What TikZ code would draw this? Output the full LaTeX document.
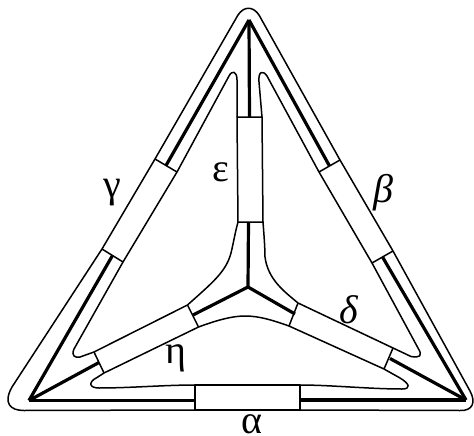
\documentclass[tikz,border=0pt]{standalone}
\usepackage{fontspec}
\setmainfont{Liberation Serif}
\begin{document}
\begin{tikzpicture}[x=1pt,y=-1pt,
  thinline/.style={line width=1.5pt,line join=round},
  boldline/.style={line width=3.2pt},
  greek/.style={inner sep=0pt,font=\fontsize{40}{40}\selectfont}]
\useasboundingbox (0,0) rectangle (474,436);
% graph vertices
\coordinate (A) at (29,400.5);
\coordinate (B) at (466,400);
\coordinate (T) at (249,20);
\coordinate (C) at (248,287);
% band corners
\coordinate (gOb) at (102,249); \coordinate (gIb) at (123,262);
\coordinate (gOt) at (155,159); \coordinate (gIt) at (177,172);
\coordinate (bOt) at (340,160); \coordinate (bIt) at (319,172);
\coordinate (bOb) at (393,251); \coordinate (bIb) at (372,263);
\coordinate (eTl) at (237,117); \coordinate (eTr) at (262,117);
\coordinate (eBl) at (238,222); \coordinate (eBr) at (263,222);
\coordinate (hOl) at (94,352);  \coordinate (hIl) at (104,373);
\coordinate (hOr) at (187.5,305); \coordinate (hIr) at (198.5,327);
\coordinate (dOl) at (298,303); \coordinate (dIl) at (289,326);
\coordinate (dOr) at (393,348); \coordinate (dIr) at (384,369);
\coordinate (aTl) at (195,385); \coordinate (aBl) at (195,410);
\coordinate (aTr) at (300,385); \coordinate (aBr) at (300,410);
% bold edges
\draw[boldline] (A) -- (112.5,255.5);
\draw[boldline] (166,165.5) -- (T);
\draw[boldline] (T) -- (329.5,166);
\draw[boldline] (382.5,257) -- (B);
\draw[boldline] (A) -- (aTl |- A);
\draw[boldline] (aTr |- B) -- (B);
\draw[boldline] (T) -- (249.5,117);
\draw[boldline] (248.5,222) -- (C);
\draw[boldline] (C) -- (193,315);
\draw[boldline] (C) -- (295,314);
\draw[boldline] (390,358.5) -- (B);
\draw[boldline] (99,362.5) -- (A);
% outer contour
\draw[thinline] (gOb) -- (12,387) .. controls (3,403) and (10,410.5) .. (24,410.5) -- (aBl);
\draw[thinline] (aBr) -- (460,410.5) .. controls (473,411) and (476,402) .. (470,391) -- (bOb);
\draw[thinline] (bOt) -- (259,15) .. controls (253,6) and (244,6) .. (238,15) -- (gOt);
% bands
\draw[thinline] (gOb) -- (gOt) -- (gIt) -- (gIb) -- cycle;
\draw[thinline] (bOt) -- (bOb) -- (bIb) -- (bIt) -- cycle;
\draw[thinline] (eTl) -- (eTr) -- (eBr) -- (eBl) -- cycle;
\draw[thinline] (hOl) -- (hOr) -- (hIr) -- (hIl) -- cycle;
\draw[thinline] (dOl) -- (dOr) -- (dIr) -- (dIl) -- cycle;
\draw[thinline] (aTl) -- (aTr) -- (aBr) -- (aBl) -- cycle;
% inner contours
\draw[thinline] (gIb) -- (74,349) .. controls (71,356) and (75,358) .. (80,357) -- (hOl);
\draw[thinline] (gIt) -- (229,76) .. controls (232,70) and (237,71) .. (237,80) -- (eTl);
\draw[thinline] (eTr) -- (259,82) .. controls (258,71) and (263,70) .. (267,76) -- (bIt);
\draw[thinline] (bIb) -- (418,348) .. controls (423,356) and (420,358) .. (411,356.5) -- (dOr);
\draw[thinline] (dIr) -- (400,378) .. controls (410,384) and (411,389) .. (402,389) .. controls (370,389) and (330,385) .. (aTr);
\draw[thinline] (hIl) -- (97,377.5) .. controls (88,382) and (89,388) .. (99,388) .. controls (130,388) and (165,385) .. (aTl);
\draw[thinline] (eBl) .. controls (235,233) and (233,245) .. (231,253) .. controls (226,272) and (212,283) .. (hOr);
\draw[thinline] (eBr) .. controls (264,235) and (265,248) .. (265,257) .. controls (268,280) and (285,292) .. (dOl);
\draw[thinline] (hIr) .. controls (212,322) and (230,316) .. (245,316) .. controls (259,316) and (272,320) .. (dIl);
% labels
\node[greek] (lg) at (112,193) {γ};
\node[greek] (lb) at (383,193) {\itshape β};
\node[greek] (le) at (221,172) {ε};
\node[greek] (ld) at (349,310) {\itshape δ};
\node[greek] (lh) at (176,358) {η};
\node[greek] (la) at (252,424.5) {α};
\end{tikzpicture}
\end{document}
